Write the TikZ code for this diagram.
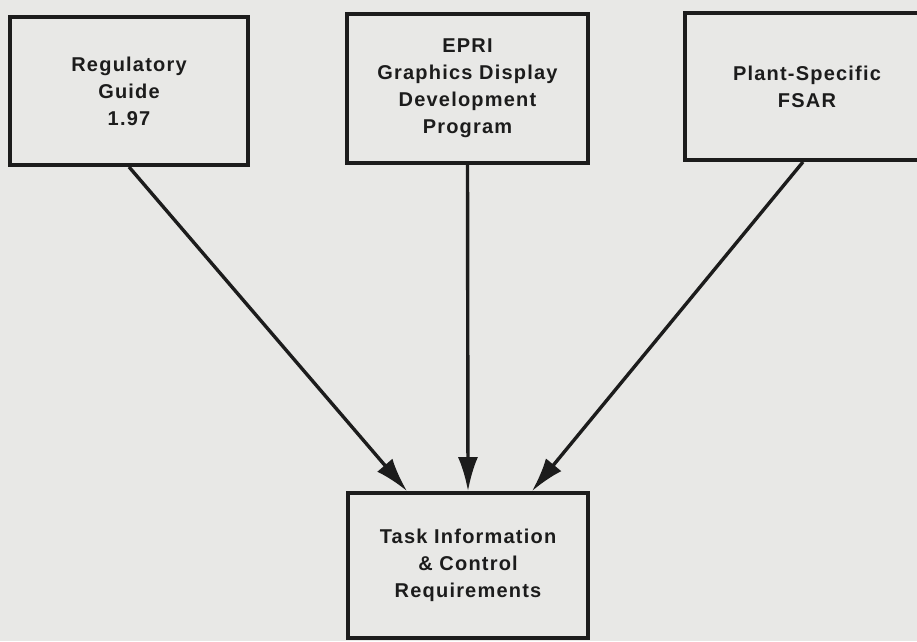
\documentclass[tikz,border=0pt]{standalone}
\usepackage{fontspec}
\setmainfont{Liberation Sans}[LetterSpace=6]
\usetikzlibrary{arrows.meta}
\definecolor{paper}{RGB}{232,232,230}
\definecolor{ink}{RGB}{28,28,28}
\tikzset{
  box/.style={draw=ink, line width=3.8pt, fill=paper, align=center, inner sep=0pt,
    font=\fontsize{20}{27}\selectfont\bfseries, text=ink},
  feed/.style={draw=ink, line width=3.4pt, -{Latex[length=34pt,width=20pt]}},
}
\begin{document}
\begin{tikzpicture}[x=1pt,y=-1pt]
\fill[paper] (0,0) rectangle (917,641);
\useasboundingbox (0,0) rectangle (917,641);
\node[box, minimum width=238pt, minimum height=148pt] (b1) at (129,91) {Regulatory\\Guide\\1.97};
\node[box, minimum width=241pt, minimum height=149pt] (b2) at (467.5,88.5) {EPRI\\Graphics Display\\Development\\Program};
\node[box, minimum width=244pt, minimum height=147pt] (b3) at (807,86.5) {Plant-Specific\\FSAR};
\node[box, minimum width=240pt, minimum height=145pt] (b4) at (468,565.5) {Task Information\\\& Control\\Requirements};
\coordinate (s3) at ([xshift=-4pt]b3.south);
\coordinate (e1) at ([xshift=-61pt]b4.north);
\coordinate (e3) at ([xshift=64pt]b4.north);
\draw[feed] (b1.south) -- (e1);
\draw[feed] (b2.south) -- (b4.north);
\draw[feed] (s3) -- (e3);
\end{tikzpicture}
\end{document}
